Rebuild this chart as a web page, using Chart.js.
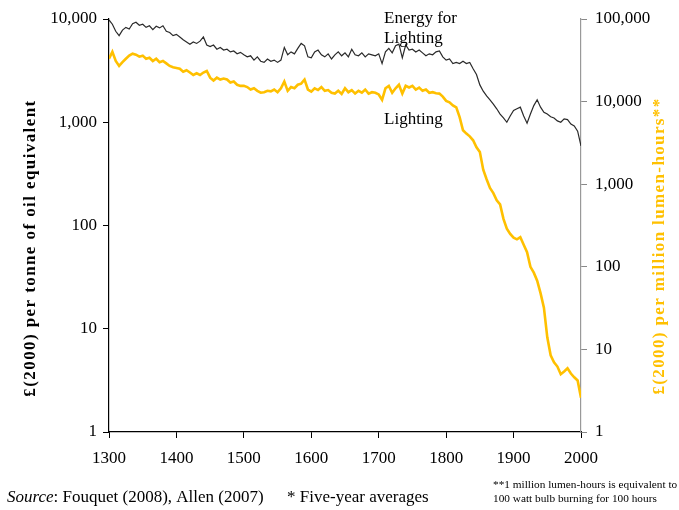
<!DOCTYPE html>
<html>
<head>
<meta charset="utf-8">
<script src="https://cdn.jsdelivr.net/npm/chart.js@4.4.1/dist/chart.umd.min.js"></script>
<style>
  html, body { margin: 0; padding: 0; background: #fff; }
</style>
</head>
<body>
<canvas id="chart" width="679" height="510"></canvas>
<script>
// five-year averages, 1300 - 2000
var years = [
  1300,1305,1310,1315,1320,1325,1330,1335,1340,1345,1350,1355,1360,1365,1370,1375,1380,1385,1390,1395,
  1400,1405,1410,1415,1420,1425,1430,1435,1440,1445,1450,1455,1460,1465,1470,1475,1480,1485,1490,1495,
  1500,1505,1510,1515,1520,1525,1530,1535,1540,1545,1550,1555,1560,1565,1570,1575,1580,1585,1590,1595,
  1600,1605,1610,1615,1620,1625,1630,1635,1640,1645,1650,1655,1660,1665,1670,1675,1680,1685,1690,1695,
  1700,1705,1710,1715,1720,1725,1730,1735,1740,1745,1750,1755,1760,1765,1770,1775,1780,1785,1790,1795,
  1800,1805,1810,1815,1820,1825,1830,1835,1840,1845,1850,1855,1860,1865,1870,1875,1880,1885,1890,1895,
  1900,1905,1910,1915,1920,1925,1930,1935,1940,1945,1950,1955,1960,1965,1970,1975,1980,1985,1990,1995,
  2000
];

// £(2000) per tonne of oil equivalent (left axis)
var energyForLighting = [
  9800,8900,7600,6900,7800,8300,8000,9000,9300,8700,8900,8300,8600,7900,8500,8200,8600,7600,7400,6900,
  7100,6700,6300,6000,5700,6000,5800,6100,6700,5600,5400,5600,5100,5300,5000,5100,4800,4900,4600,4750,
  4500,4300,4400,4000,4300,3900,3800,4100,3900,4000,3800,4000,5300,4500,4800,4600,5200,5800,5500,4300,
  4200,4800,5000,4500,4300,4600,4100,4500,4800,4400,4700,4300,5100,4500,4400,4700,4300,4600,4500,4400,
  4600,3700,4800,5200,4700,5500,5700,4200,5600,5000,5100,4800,5000,4700,4400,4600,4500,4800,4900,4300,
  4000,4100,3700,3800,3700,3900,3700,3800,3300,2900,2300,2000,1800,1650,1500,1350,1200,1100,1000,1150,
  1300,1350,1400,1150,980,1200,1450,1650,1400,1250,1200,1130,1100,1030,1000,1080,1060,960,920,820,
  590
];

// £(2000) per million lumen-hours (right axis)
var lighting = [
  33000,40000,31000,27000,30000,33000,36000,38000,37000,35000,36000,33000,34000,31000,33000,30000,31000,29000,27000,26000,
  25500,25000,23000,24000,22500,21000,22000,21000,22500,23500,19500,18000,19500,18500,19000,18500,17000,17500,16000,15500,
  15500,15000,14000,14500,13500,12800,13000,13500,13300,14000,13000,14500,17500,13500,15000,14500,16000,16500,18500,14000,
  13200,14500,13800,15000,13500,13800,12800,12500,13500,12400,14500,13000,13800,12500,13500,12800,14000,12500,13000,12800,
  12200,10500,14500,15500,12800,14500,16000,12500,15500,14800,15500,14000,14800,13500,14000,12800,13000,12600,12500,11500,
  10200,9800,9000,8500,6500,4500,4100,3800,3400,2800,2450,1500,1150,900,780,640,570,380,290,250,
  225,215,228,185,150,100,85,68,48,32,14,8.5,7,6.2,5.0,5.4,5.9,5.1,4.6,4.2,
  2.6
];

var xTicks = [1300,1400,1500,1600,1700,1800,1900,2000];
var leftTicks = [1,10,100,1000,10000];
var rightTicks = [1,10,100,1000,10000,100000];

var GOLD = '#ffc000';
var SERIF = '"Liberation Serif", "Times New Roman", serif';

function pairs(vals) {
  return vals.map(function (v, i) { return { x: years[i], y: v }; });
}
function fmt(v) { return Number(v).toLocaleString('en-US'); }

// rotated axis title, stretched to a given length
function sideTitle(ctx, text, cx, cy, len, color) {
  ctx.save();
  ctx.fillStyle = color;
  ctx.font = 'bold 17px ' + SERIF;
  var w = ctx.measureText(text).width;
  if ('letterSpacing' in ctx) {
    ctx.letterSpacing = ((len - w) / (text.length - 1)).toFixed(2) + 'px';
  }
  ctx.textAlign = 'center';
  ctx.textBaseline = 'middle';
  ctx.translate(cx, cy);
  ctx.rotate(-Math.PI / 2);
  ctx.fillText(text, 0, 0);
  ctx.restore();
}

var textPlugin = {
  id: 'texts',
  afterDraw: function (chart) {
    var ctx = chart.ctx;
    var x = chart.scales.x;
    ctx.save();
    ctx.fillStyle = '#000';
    ctx.textAlign = 'left';
    ctx.textBaseline = 'alphabetic';
    ctx.font = '17px ' + SERIF;
    ctx.fillText('Energy for', x.getPixelForValue(1708), 23);
    ctx.fillText('Lighting', x.getPixelForValue(1708), 43);
    ctx.fillText('Lighting', x.getPixelForValue(1708), 124);

    sideTitle(ctx, '£(2000) per tonne of oil equivalent', 31, 248, 296, '#000');
    sideTitle(ctx, '£(2000) per million lumen-hours**', 660, 246, 296, GOLD);

    // footnotes
    ctx.font = 'italic 17px ' + SERIF;
    ctx.fillText('Source', 7, 502);
    var w = ctx.measureText('Source').width;
    ctx.font = '17px ' + SERIF;
    ctx.fillText(': Fouquet (2008), Allen (2007)', 7 + w, 502);
    ctx.fillText('* Five-year averages', 287, 502);
    ctx.font = '11.3px ' + SERIF;
    ctx.fillText('**1 million lumen-hours is equivalent to', 493, 488);
    ctx.fillText('100 watt bulb burning for 100 hours', 493, 502);
    ctx.restore();
  }
};

var canvas = document.getElementById('chart');
var config = {
  type: 'line',
  data: {
    datasets: [
      { label: 'Energy for Lighting', data: pairs(energyForLighting), yAxisID: 'y',
        borderColor: '#2a2a2a', borderWidth: 1.2, pointRadius: 0, tension: 0 },
      { label: 'Lighting', data: pairs(lighting), yAxisID: 'y2',
        borderColor: GOLD, borderWidth: 2.6, pointRadius: 0, tension: 0 }
    ]
  },
  options: {
    responsive: false,
    devicePixelRatio: 1,
    animation: false,
    layout: { padding: { top: 19, left: 0, right: 0, bottom: 0 } },
    plugins: { legend: { display: false }, tooltip: { enabled: false } },
    scales: {
      x: {
        type: 'linear', min: 1300, max: 2000,
        afterBuildTicks: function (s) { s.ticks = xTicks.map(function (v) { return { value: v }; }); },
        afterFit: function (s) { s.height = 78; },
        grid: { drawOnChartArea: false, drawTicks: true, tickLength: 6, color: '#000' },
        border: { color: '#000', width: 1.2 },
        ticks: { color: '#000', font: { family: SERIF, size: 17 }, padding: 10, maxRotation: 0,
                 callback: function (v) { return String(v); } }
      },
      y: {
        type: 'logarithmic', position: 'left', min: 1, max: 10000,
        afterBuildTicks: function (s) { s.ticks = leftTicks.map(function (v) { return { value: v }; }); },
        afterFit: function (s) { s.width = 109; },
        grid: { drawOnChartArea: false, drawTicks: true, tickLength: 6, color: '#000' },
        border: { color: '#000', width: 1.2 },
        ticks: { color: '#000', font: { family: SERIF, size: 17 }, padding: 6, callback: fmt }
      },
      y2: {
        type: 'logarithmic', position: 'right', min: 1, max: 100000,
        afterBuildTicks: function (s) { s.ticks = rightTicks.map(function (v) { return { value: v }; }); },
        afterFit: function (s) { s.width = 98; },
        grid: { drawOnChartArea: false, drawTicks: true, tickLength: 6, color: '#888' },
        border: { color: '#999', width: 1.2 },
        ticks: { color: '#000', font: { family: SERIF, size: 17 }, padding: 8, callback: fmt }
      }
    }
  },
  plugins: [textPlugin]
};

var chart = new Chart(canvas, config);
</script>
</body>
</html>
